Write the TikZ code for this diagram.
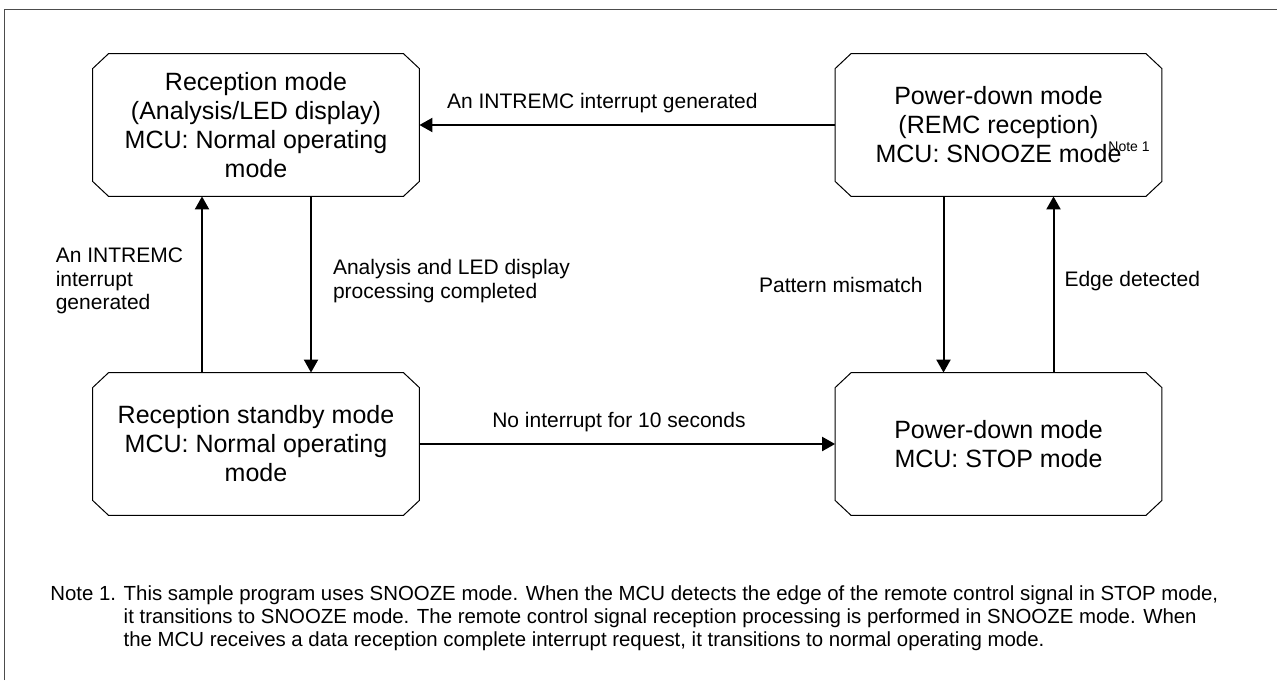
\documentclass[tikz,border=0pt]{standalone}
\usepackage{fontspec}
\setmainfont{Liberation Sans}
\usetikzlibrary{arrows.meta}

\begin{document}
\begin{tikzpicture}[x=0.5pt,y=-0.5pt,
        modebox/.style={minimum width=163pt, minimum height=71pt,
            inner sep=0pt, align=center,
            font=\fontsize{12.5}{14.5}\selectfont},
        lbl/.style={inner sep=0pt, font=\fontsize{10.5}{11.75}\selectfont},
        arr/.style={line width=1pt, -{Triangle[length=6.5pt,width=7pt]}}]
        \useasboundingbox (0,0) rectangle (1277,680);
        % frame
        \draw[line width=0.5pt, black!70] (4,680) -- (4,9) -- (1277,9);
        % modes
        \node[modebox] (recv) at (256,125) {Reception mode\\(Analysis/LED display)\\MCU: Normal operating\\mode};
        \node[modebox] (remc) at (998.5,125) {Power-down mode\\(REMC reception)\\MCU: SNOOZE mode\rlap{\hspace{-6.5pt}\raisebox{0.9ex}{\fontsize{7}{7}\selectfont Note 1}}};
        \node[modebox] (stby) at (256,444) {Reception standby mode\\MCU: Normal operating\\mode};
        \node[modebox] (stop) at (998.5,444) {Power-down mode\\MCU: STOP mode};
        % chamfered outlines
        \foreach \n in {recv,remc,stby,stop}
        \draw[line width=0.5pt] ([xshift=8pt]\n.north west) -- ([xshift=-8pt]\n.north east)
            -- ([yshift=-7.5pt]\n.north east) -- ([yshift=7.5pt]\n.south east)
            -- ([xshift=-8pt]\n.south east) -- ([xshift=8pt]\n.south west)
            -- ([yshift=7.5pt]\n.south west) -- ([yshift=-7.5pt]\n.north west) -- cycle;
        % transitions
        \draw[arr] (remc) -- node[lbl, pos=0.56, yshift=11pt] {An INTREMC interrupt generated} (recv);
        \draw[arr] (stby) -- node[lbl, pos=0.48, yshift=11pt] {No interrupt for 10 seconds} (stop);
        \draw[arr] ([xshift=-27pt]stby.north) -- node[lbl, pos=0.52, left=9pt, align=left]
            {An INTREMC\\interrupt\\generated} ([xshift=-27pt]recv.south);
        \draw[arr] ([xshift=27.5pt]recv.south) -- node[lbl, pos=0.48, right=10.5pt, align=left]
            {Analysis and LED display\\processing completed} ([xshift=27.5pt]stby.north);
        \draw[arr] ([xshift=-27.5pt]remc.south) -- node[lbl, left=10pt] {Pattern mismatch} ([xshift=-27.5pt]stop.north);
        \draw[arr] ([xshift=27.5pt]stop.north) -- node[lbl, pos=0.52, right=5pt] {Edge detected} ([xshift=27.5pt]remc.south);
        % note
        \node[anchor=base west, inner sep=0pt, font=\fontsize{10.2}{11.5}\selectfont] (note) at (50,600)
            {\begin{tabular}[t]{@{}l@{ }l@{}}
            Note 1. & This sample program uses SNOOZE mode. When the MCU detects the edge of the remote control signal in STOP mode,\\
            & it transitions to SNOOZE mode. The remote control signal reception processing is performed in SNOOZE mode. When\\
            & the MCU receives a data reception complete interrupt request, it transitions to normal operating mode.
            \end{tabular}};
\end{tikzpicture}
\end{document}
